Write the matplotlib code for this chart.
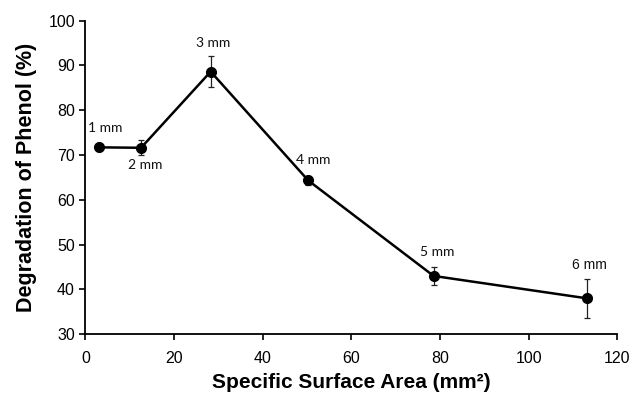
import matplotlib
matplotlib.use("Agg")
import matplotlib.pyplot as plt

# specific surface area (mm2) vs phenol degradation (%)
area = [3.14, 12.57, 28.27, 50.27, 78.54, 113.10]
degradation = [71.7, 71.6, 88.6, 64.3, 43.0, 38.0]
err = [0.4, 1.7, 3.5, 1.0, 2.1, 4.3]
labels = ["1 mm", "2 mm", "3 mm", "4 mm", "5 mm", "6 mm"]
# label offsets in pixels from each point
offsets = [(6, 19), (4, -17), (2, 29), (5, 20), (4, 24), (3, 33)]

plt.rcParams['font.family'] = ['Liberation Sans', 'DejaVu Sans']

fig = plt.figure(figsize=(6.32, 3.95), dpi=100)
ax = fig.add_axes([0.135, 0.154, 0.842, 0.794])

ax.errorbar(area, degradation, yerr=err, color='black', linewidth=1.8,
            marker='o', markersize=7, ecolor='#222222', elinewidth=0.9,
            capsize=2.5, capthick=0.9)

for i in range(len(labels)):
    fam = 'Liberation Sans' if i == 5 else 'Lato'
    ax.annotate(labels[i], (area[i], degradation[i]), xytext=offsets[i],
                textcoords='offset pixels', ha='center', va='center',
                fontsize=10, family=fam, color='#111111')

ax.set_xlim(0, 120)
ax.set_ylim(30, 100)
ax.set_xticks(range(0, 121, 20))
ax.set_yticks(range(30, 101, 10))
ax.spines['top'].set_visible(False)
ax.spines['right'].set_visible(False)
ax.spines['left'].set_linewidth(1.3)
ax.spines['bottom'].set_linewidth(1.3)
ax.tick_params(direction='out', length=4, width=1.2, labelsize=11.5, colors='black')
ax.tick_params(axis='x', pad=8)

ax.set_xlabel('Specific Surface Area (mm²)', fontsize=15, fontweight='bold', labelpad=5)
ax.set_ylabel('Degradation of Phenol (%)', fontsize=15.5, fontweight='bold', labelpad=8)

plt.savefig('out.png', dpi=100)
